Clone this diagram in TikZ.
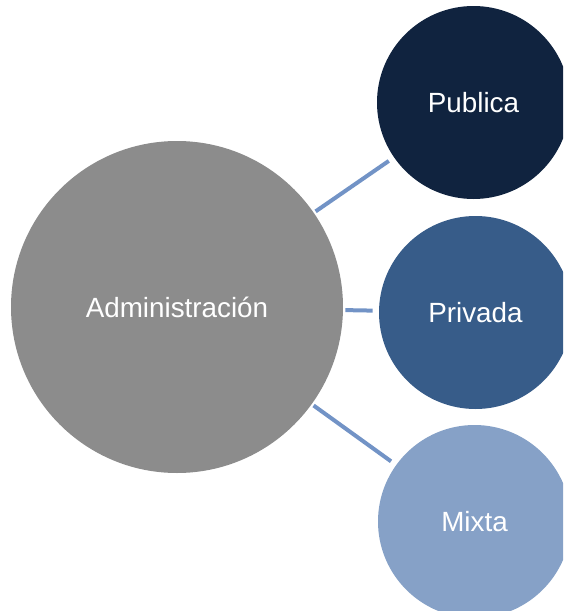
\documentclass[tikz,border=0pt]{standalone}
\usepackage{fontspec}
\setmainfont{Liberation Sans}
\definecolor{admgray}{HTML}{8C8C8C}
\definecolor{pubnavy}{HTML}{10233F}
\definecolor{privblue}{HTML}{375C89}
\definecolor{mixblue}{HTML}{86A1C7}
\definecolor{linkblue}{HTML}{7293C6}

\begin{document}
\begin{tikzpicture}[x=0.5pt,y=-0.5pt]
    \tikzstyle{every node}+=[inner sep=0pt,outer sep=0pt]
    \tikzstyle{bubble}=[circle,text=white,font=\fontsize{13.9}{16}\selectfont]
    \tikzstyle{link}=[draw=linkblue,line width=2pt,shorten <=1.2pt,shorten >=3.2pt]
    \clip (0,0) rectangle (563,611);
    \node [bubble,fill=admgray,minimum size=166pt] (admin) at (177,307) {Administración};
    \node [bubble,fill=pubnavy,minimum size=96.5pt] (publica) at (473.5,102.5) {Publica};
    \node [bubble,fill=privblue,minimum size=96.5pt] (privada) at (475.5,312.5) {Privada};
    \node [bubble,fill=mixblue,minimum size=96.5pt] (mixta) at (474.5,521.5) {Mixta};
    \draw [link] (admin) -- (publica);
    \draw [link] (admin) -- (privada);
    \draw [link] (admin) -- (mixta);
\end{tikzpicture}
\end{document}
